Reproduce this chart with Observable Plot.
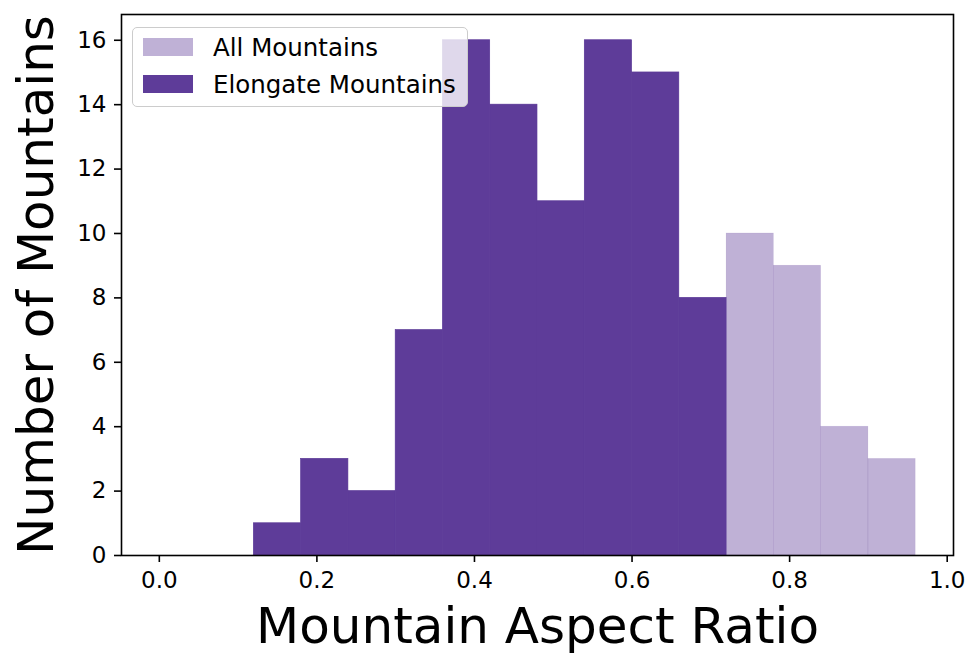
<!DOCTYPE html>
<html>
<head>
<meta charset="utf-8">
<script src="https://cdn.jsdelivr.net/npm/d3@7"></script>
<script src="https://cdn.jsdelivr.net/npm/@observablehq/plot@0.6"></script>
<style>
  body { margin: 0; background: #fff; font-family: "DejaVu Sans", sans-serif; }
  #chart { position: relative; width: 969px; height: 653px; }
  .legend {
    position: absolute; left: 132px; top: 27px; width: 334px; height: 78px;
    background: rgba(255,255,255,0.8); border: 1.6px solid #cccccc; border-radius: 5px;
    font-family: "DejaVu Sans", sans-serif; font-size: 24.5px; color: #000;
  }
  .legend .row { position: absolute; left: 10px; height: 18px; display: flex; align-items: center; white-space: nowrap; }
  .legend .sw { width: 50px; height: 18px; margin-right: 20px; flex: none; }
</style>
</head>
<body>
<div id="chart"></div>
<script>
// Histogram bins (lower edges) and counts per bin
const binLower = [0.00, 0.06, 0.12, 0.18, 0.24, 0.30, 0.36, 0.42, 0.48, 0.54, 0.60, 0.66, 0.72, 0.78, 0.84, 0.90];
const binWidth = 0.06;
const allCounts      = [0, 0, 1, 3, 2, 7, 16, 14, 11, 16, 15, 8, 10, 9, 4, 3];
const elongateCounts = [0, 0, 1, 3, 2, 7, 16, 14, 11, 16, 15, 8, 0, 0, 0, 0];
const seriesNames = ["All Mountains", "Elongate Mountains"];
const xTicks = [0, 0.2, 0.4, 0.6, 0.8, 1.0];
const yTicks = [0, 2, 4, 6, 8, 10, 12, 14, 16];

const purple = "#5e3c99";

const toBins = counts => binLower.map((x0, i) => ({x1: x0, x2: +(x0 + binWidth).toFixed(2), count: counts[i]}))
  .filter(d => d.count > 0);
const allBins = toBins(allCounts);
const elongateBins = toBins(elongateCounts);

const chart = Plot.plot({
  width: 969,
  height: 653,
  marginLeft: 121,
  marginRight: 16,
  marginTop: 14,
  marginBottom: 98,
  style: { fontFamily: "DejaVu Sans, sans-serif", fontSize: "23px", background: "#fff", color: "#000" },
  x: { domain: [-0.048, 1.008] },
  y: { domain: [0, 16.8] },
  marks: [
    // all mountains: translucent bars; the faint stroke leaves thin seams where neighbours meet
    Plot.rectY(allBins, { x1: "x1", x2: "x2", y: "count", fill: purple, fillOpacity: 0.4, stroke: purple, strokeOpacity: 0.15, strokeWidth: 0.5 }),
    // elongate mountains: opaque bars on top
    Plot.rectY(elongateBins, { x1: "x1", x2: "x2", y: "count", fill: purple, stroke: purple, strokeWidth: 0.6 }),
    Plot.axisX({ ticks: xTicks, tickFormat: d3.format(".1f"), tickSize: 7, tickPadding: 9, strokeWidth: 1.6, fontSize: 23, label: null }),
    Plot.axisY({ ticks: yTicks, tickFormat: d3.format("d"), tickSize: 7, tickPadding: 8, strokeWidth: 1.6, fontSize: 23, label: null }),
    Plot.frame({ strokeWidth: 1.6 }),
    Plot.text(["Mountain Aspect Ratio"], { frameAnchor: "bottom", lineAnchor: "bottom", textAnchor: "middle", dy: 87, fontSize: 50, fill: "#000" }),
    Plot.text(["Number of Mountains"], { frameAnchor: "left", lineAnchor: "bottom", textAnchor: "middle", rotate: -90, dx: -69, fontSize: 50, fill: "#000" })
  ]
});

const root = document.getElementById("chart");
root.appendChild(chart);

// Legend box drawn inside the plot area, upper left
const legend = document.createElement("div");
legend.className = "legend";
const rows = [
  { name: seriesNames[0], opacity: 0.4, top: 10 },
  { name: seriesNames[1], opacity: 1, top: 47 }
];
for (const r of rows) {
  const row = document.createElement("div");
  row.className = "row";
  row.style.top = r.top + "px";
  const sw = document.createElement("span");
  sw.className = "sw";
  sw.style.background = purple;
  sw.style.opacity = r.opacity;
  const label = document.createElement("span");
  label.textContent = r.name;
  row.appendChild(sw);
  row.appendChild(label);
  legend.appendChild(row);
}
root.appendChild(legend);
</script>
</body>
</html>
